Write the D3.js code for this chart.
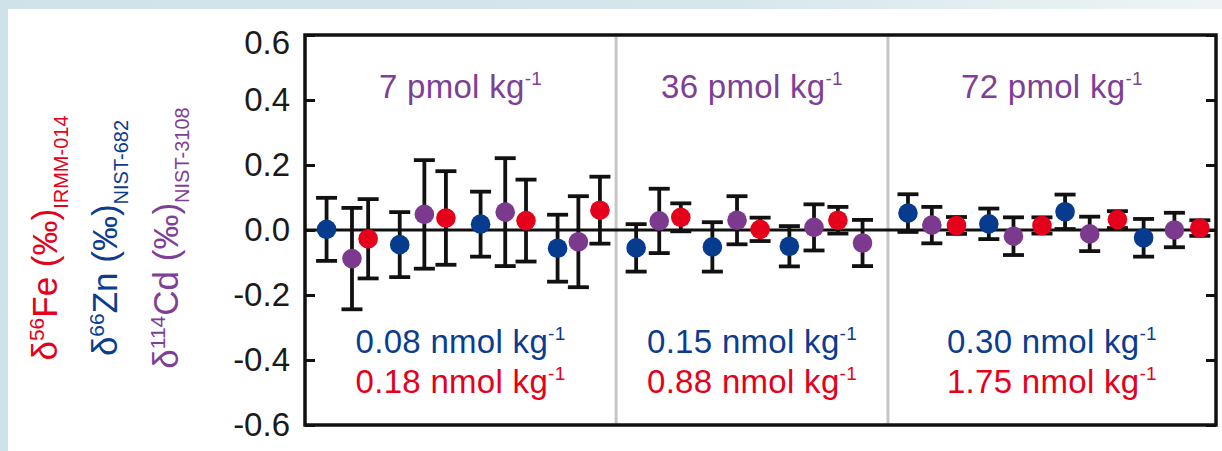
<!DOCTYPE html>
<html>
<head>
<meta charset="utf-8">
<script src="https://cdn.jsdelivr.net/npm/d3@7"></script>
<style>
  body { margin: 0; background: #fff; }
  svg { display: block; font-family: "Liberation Sans", Arial, Helvetica, sans-serif; }
</style>
</head>
<body>
<div id="chart"></div>
<script>
// panel annotations (concentrations)
var cdConc = ["7", "36", "72"];          // pmol kg-1
var znConc = ["0.08", "0.15", "0.30"];   // nmol kg-1
var feConc = ["0.18", "0.88", "1.75"];   // nmol kg-1

// run position along x (arbitrary units), panel boundaries
var panelBreaks = [0, 40.4, 75.7, 118.3];
var yTicks = [-0.6, -0.4, -0.2, 0.0, 0.2, 0.4, 0.6];

// Zn (NIST-682)
var znPos = [2.8, 12.3, 22.8, 32.8, 43.0, 52.9, 62.9, 78.3, 88.8, 98.7, 108.9];
var znVal = [0.002, -0.045, 0.018, -0.056, -0.055, -0.052, -0.050, 0.052, 0.019, 0.056, -0.024];
var znErr = [0.097, 0.100, 0.100, 0.103, 0.073, 0.076, 0.062, 0.058, 0.047, 0.053, 0.058];

// Cd (NIST-3108)
var cdPos = [6.1, 15.5, 26.0, 35.5, 46.0, 56.1, 66.1, 72.4, 81.4, 92.0, 101.9, 112.9];
var cdVal = [-0.088, 0.048, 0.055, -0.036, 0.028, 0.030, 0.008, -0.040, 0.015, -0.019, -0.012, 0.000];
var cdErr = [0.156, 0.167, 0.166, 0.140, 0.099, 0.074, 0.071, 0.071, 0.056, 0.058, 0.053, 0.053];

// Fe (IRMM-014)
var fePos = [8.2, 18.3, 28.7, 38.3, 48.8, 59.1, 69.2, 84.6, 95.7, 105.5, 116.2];
var feVal = [-0.027, 0.037, 0.029, 0.061, 0.039, 0.002, 0.030, 0.014, 0.014, 0.032, 0.006];
var feErr = [0.122, 0.144, 0.126, 0.103, 0.043, 0.036, 0.041, 0.026, 0.025, 0.026, 0.024];

var colFe = "#e5001b", colZn = "#063b8e", colCd = "#7b3a8e";

var W = 1222, H = 451;
var frame = {left: 305, right: 1216, top: 35, bottom: 425};

var svg = d3.select("#chart").append("svg")
  .attr("width", W)
  .attr("height", H);

// background strips
var grad = svg.append("defs").append("linearGradient")
  .attr("id", "bg").attr("x1", 0).attr("x2", 1).attr("y1", 0).attr("y2", 0);
grad.append("stop").attr("offset", "0%").attr("stop-color", "#cfe2e9");
grad.append("stop").attr("offset", "60%").attr("stop-color", "#d6e7ec");
grad.append("stop").attr("offset", "100%").attr("stop-color", "#eef4f6");
svg.append("rect").attr("width", W).attr("height", H).attr("fill", "url(#bg)");
svg.append("rect").attr("x", 8).attr("y", 9).attr("width", W - 8).attr("height", H - 9).attr("fill", "#fff");

var x = d3.scaleLinear().domain([panelBreaks[0], panelBreaks[3]]).range([frame.left, frame.right]);
var y = d3.scaleLinear().domain([-0.6, 0.6]).range([frame.bottom, frame.top]);

// panel dividers
svg.selectAll(".divider")
  .data(panelBreaks.slice(1, 3))
  .enter().append("line")
  .attr("class", "divider")
  .attr("x1", d => x(d)).attr("x2", d => x(d))
  .attr("y1", frame.top).attr("y2", frame.bottom)
  .attr("stroke", "#c6c6c6")
  .attr("stroke-width", 3);

// zero line
svg.append("line")
  .attr("x1", frame.left).attr("x2", frame.right)
  .attr("y1", y(0)).attr("y2", y(0))
  .attr("stroke", "#111")
  .attr("stroke-width", 3);

// axes
var yAxisL = d3.axisLeft(y).tickValues(yTicks).tickSize(-10).tickPadding(15)
  .tickFormat(d3.format(".1f"));
var gL = svg.append("g")
  .attr("transform", `translate(${frame.left},0)`)
  .call(yAxisL);
gL.select(".domain").remove();
gL.selectAll(".tick line").attr("stroke", "#111").attr("stroke-width", 3);
gL.selectAll(".tick text")
  .attr("fill", "#1a1a1a")
  .style("font-size", "33px")
  .text(d => d3.format(".1f")(d).replace("−", "-"));
gL.selectAll(".tick text").filter(d => d === 0.6).attr("dy", "0.57em");

var yAxisR = d3.axisRight(y).tickValues(yTicks).tickSize(-10).tickFormat("");
var gR = svg.append("g")
  .attr("transform", `translate(${frame.right},0)`)
  .call(yAxisR);
gR.select(".domain").remove();
gR.selectAll(".tick line").attr("stroke", "#111").attr("stroke-width", 3);

// frame
svg.append("rect")
  .attr("x", frame.left).attr("y", frame.top)
  .attr("width", frame.right - frame.left)
  .attr("height", frame.bottom - frame.top)
  .attr("fill", "none")
  .attr("stroke", "#111")
  .attr("stroke-width", 3.5);

// series
var series = [
  {pos: znPos, val: znVal, err: znErr, color: colZn},
  {pos: cdPos, val: cdVal, err: cdErr, color: colCd},
  {pos: fePos, val: feVal, err: feErr, color: colFe}
];
var points = [];
series.forEach(function(s){
  s.pos.forEach(function(p, i){
    points.push({x: p, v: s.val[i], e: s.err[i], color: s.color});
  });
});

var cap = 10.5;
var bars = svg.append("g").selectAll("g")
  .data(points)
  .enter().append("g")
  .attr("stroke", "#111")
  .attr("stroke-width", 3.8);
bars.append("line")
  .attr("x1", d => x(d.x)).attr("x2", d => x(d.x))
  .attr("y1", d => y(d.v + d.e)).attr("y2", d => y(d.v - d.e));
bars.append("line")
  .attr("x1", d => x(d.x) - cap).attr("x2", d => x(d.x) + cap)
  .attr("y1", d => y(d.v + d.e)).attr("y2", d => y(d.v + d.e));
bars.append("line")
  .attr("x1", d => x(d.x) - cap).attr("x2", d => x(d.x) + cap)
  .attr("y1", d => y(d.v - d.e)).attr("y2", d => y(d.v - d.e));

svg.append("g").selectAll("circle")
  .data(points)
  .enter().append("circle")
  .attr("cx", d => x(d.x))
  .attr("cy", d => y(d.v))
  .attr("r", 9.8)
  .attr("fill", d => d.color);

// panel annotations
var centers = [0, 1, 2].map(i => (panelBreaks[i] + panelBreaks[i + 1]) / 2);

function unitLabel(sel, txt, unit, color, yPos){
  var t = svg.append("text")
    .attr("x", sel).attr("y", yPos)
    .attr("text-anchor", "middle")
    .attr("fill", color)
    .style("font-size", "33px")
    .style("letter-spacing", "0.3px");
  t.append("tspan").text(txt + " " + unit + " kg");
  t.append("tspan").attr("dy", -13).style("font-size", "19px").text("-1");
}
centers.forEach(function(c, i){
  unitLabel(x(c), cdConc[i], "pmol", "#7e3f96", 98);
  unitLabel(x(c), znConc[i], "nmol", "#0b3c8f", 353);
  unitLabel(x(c), feConc[i], "nmol", "#e5001b", 393);
});

// y axis labels (rotated)
var yLabels = [
  {sup: "56", el: "Fe", sub: "IRMM-014", color: "#e5001b", x: 57},
  {sup: "66", el: "Zn", sub: "NIST-682", color: "#0b3c8f", x: 117},
  {sup: "114", el: "Cd", sub: "NIST-3108", color: "#7e3f96", x: 178}
];
yLabels.forEach(function(l){
  var t = svg.append("text")
    .attr("transform", `translate(${l.x},238) rotate(-90)`)
    .attr("text-anchor", "middle")
    .attr("fill", l.color)
    .style("font-size", "35px");
  t.append("tspan").text("δ");
  t.append("tspan").attr("dy", -13).style("font-size", "21px").text(l.sup);
  t.append("tspan").attr("dy", 13).text(l.el + " (‰)");
  t.append("tspan").attr("dy", 11).style("font-size", "20px").text(l.sub);
});
</script>
</body>
</html>
